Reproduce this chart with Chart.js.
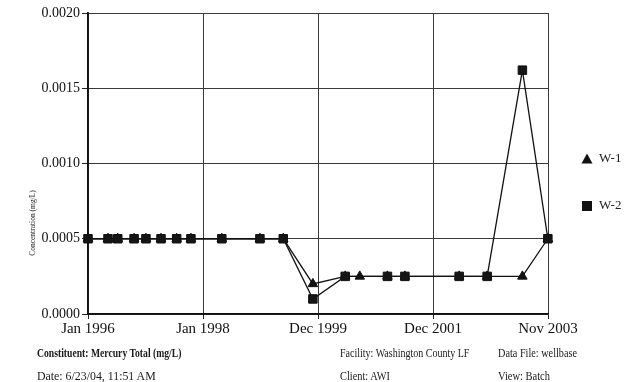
<!DOCTYPE html>
<html>
<head>
<meta charset="utf-8">
<script src="https://cdn.jsdelivr.net/npm/chart.js@4/dist/chart.umd.min.js"></script>
<style>
  html, body { margin: 0; padding: 0; background: #fff; }
  #wrap { position: relative; width: 638px; height: 382px; }
  #chart { position: absolute; left: 0; top: 0; }
  .info { position: absolute; font-family: "Liberation Serif", serif; font-size: 11.5px; line-height: 12px; color: #1a1a1a; white-space: nowrap; transform-origin: left center; }
  .bold { font-weight: bold; }
</style>
</head>
<body>
<div id="wrap">
  <canvas id="chart" width="638" height="382"></canvas>
  <div class="info bold" style="left:37px; top:347px; transform:scaleX(0.84)">Constituent: Mercury Total (mg/L)</div>
  <div class="info" style="left:340px; top:347px; transform:scaleX(0.87)">Facility: Washington County LF</div>
  <div class="info" style="left:498px; top:347px; transform:scaleX(0.89)">Data File: wellbase</div>
  <div class="info" style="left:37px; top:370px; transform:scaleX(1.03)">Date: 6/23/04, 11:51 AM</div>
  <div class="info" style="left:340px; top:370px; transform:scaleX(0.9)">Client: AWI</div>
  <div class="info" style="left:498px; top:370px; transform:scaleX(0.91)">View: Batch</div>
</div>
<script>
// Sampling dates and mercury concentrations (mg/L) for the two wells
const sampleDates = ['1996-01-01','1996-05-05','1996-07-05','1996-10-15','1996-12-28',
  '1997-04-01','1997-07-08','1997-10-05','1998-04-16','1998-12-10','1999-05-05',
  '1999-11-06','2000-05-26','2000-08-25','2001-02-14','2001-06-03','2002-05-08',
  '2002-10-30','2003-06-07','2003-11-13'];
const w1Values = [0.0005,0.0005,0.0005,0.0005,0.0005,0.0005,0.0005,0.0005,0.0005,0.0005,0.0005,
  0.0002,0.00025,0.00025,0.00025,0.00025,0.00025,0.00025,0.00025,0.0005];
const w2Values = [0.0005,0.0005,0.0005,0.0005,0.0005,0.0005,0.0005,0.0005,0.0005,0.0005,0.0005,
  0.0001,0.00025,null,0.00025,0.00025,0.00025,0.00025,0.00162,0.0005];
const seriesNames = ['W-1','W-2'];

// Axis range and tick labels
const axisStart = '1996-01-01';
const axisEnd = '2003-11-14';
const xTickLabels = ['Jan 1996','Jan 1998','Dec 1999','Dec 2001','Nov 2003'];
const yTickValues = [0, 0.0005, 0.0010, 0.0015, 0.0020];
const yAxisTitle = 'Concentration (mg/L)';

const toMs = s => Date.parse(s + 'T00:00:00Z');
const xMin = toMs(axisStart), xMax = toMs(axisEnd);
const xTickValues = xTickLabels.map((_, i) => xMin + (xMax - xMin) * i / (xTickLabels.length - 1));

const pts = vals => sampleDates.map((d, i) => ({ x: toMs(d), y: vals[i] })).filter(p => p.y !== null);

const serif = '"Liberation Serif", "Times New Roman", serif';

// Rotated y-axis caption and the marker legend at the right
const extras = {
  id: 'extras',
  afterDraw(chart) {
    const ctx = chart.ctx;
    ctx.save();
    ctx.fillStyle = '#222';
    ctx.font = '7.5px ' + serif;
    ctx.translate(33, 223);
    ctx.rotate(-Math.PI / 2);
    ctx.textAlign = 'center';
    ctx.textBaseline = 'middle';
    ctx.fillText(yAxisTitle, 0, 0);
    ctx.restore();

    ctx.save();
    ctx.fillStyle = '#111';
    // triangle marker
    ctx.beginPath();
    ctx.moveTo(587, 153.5); ctx.lineTo(592.5, 163.5); ctx.lineTo(581.5, 163.5); ctx.closePath();
    ctx.fill();
    // square marker
    ctx.fillRect(582, 201, 10, 10);
    ctx.font = '13px ' + serif;
    ctx.textBaseline = 'middle';
    ctx.fillStyle = '#222';
    ctx.fillText(seriesNames[0], 599, 159);
    ctx.fillText(seriesNames[1], 599, 206);
    ctx.restore();
  }
};

new Chart(document.getElementById('chart'), {
  type: 'line',
  data: {
    datasets: [
      { label: seriesNames[1], data: pts(w2Values), order: 0, clip: false,
        borderColor: '#111', backgroundColor: '#151515', borderWidth: 1.3,
        pointStyle: 'rect', pointRadius: 6, pointBorderColor: '#111', pointBorderWidth: 1,
        tension: 0 },
      { label: seriesNames[0], data: pts(w1Values), order: 1, clip: false,
        borderColor: '#111', backgroundColor: '#111', borderWidth: 1.3,
        pointStyle: 'triangle', pointRadius: 5.5, pointBorderWidth: 1,
        tension: 0 }
    ]
  },
  options: {
    responsive: false,
    animation: false,
    devicePixelRatio: 1,
    layout: { padding: { top: 13, right: 90, bottom: 40, left: 0 } },
    plugins: { legend: { display: false }, tooltip: { enabled: false } },
    scales: {
      x: {
        type: 'linear', min: xMin, max: xMax,
        afterFit: s => { s.height = 28; },
        afterBuildTicks: s => { s.ticks = xTickValues.map(v => ({ value: v })); },
        ticks: {
          autoSkip: false, maxRotation: 0, padding: 1, color: '#111',
          font: { family: serif, size: 15 },
          callback: (v, i) => xTickLabels[i]
        },
        grid: { color: '#3a3a3a', lineWidth: 1, tickLength: 5, tickColor: '#222' },
        border: { color: '#111', width: 1.8 }
      },
      y: {
        min: 0, max: 0.002,
        afterFit: s => { s.width = 88; },
        afterBuildTicks: s => { s.ticks = yTickValues.map(v => ({ value: v })); },
        ticks: {
          padding: 2, color: '#111',
          font: { family: serif, size: 14 },
          callback: v => v.toFixed(4)
        },
        grid: { color: '#3a3a3a', lineWidth: 1, tickLength: 6, tickColor: '#222' },
        border: { color: '#111', width: 1.8 }
      }
    }
  },
  plugins: [extras]
});
</script>
</body>
</html>
